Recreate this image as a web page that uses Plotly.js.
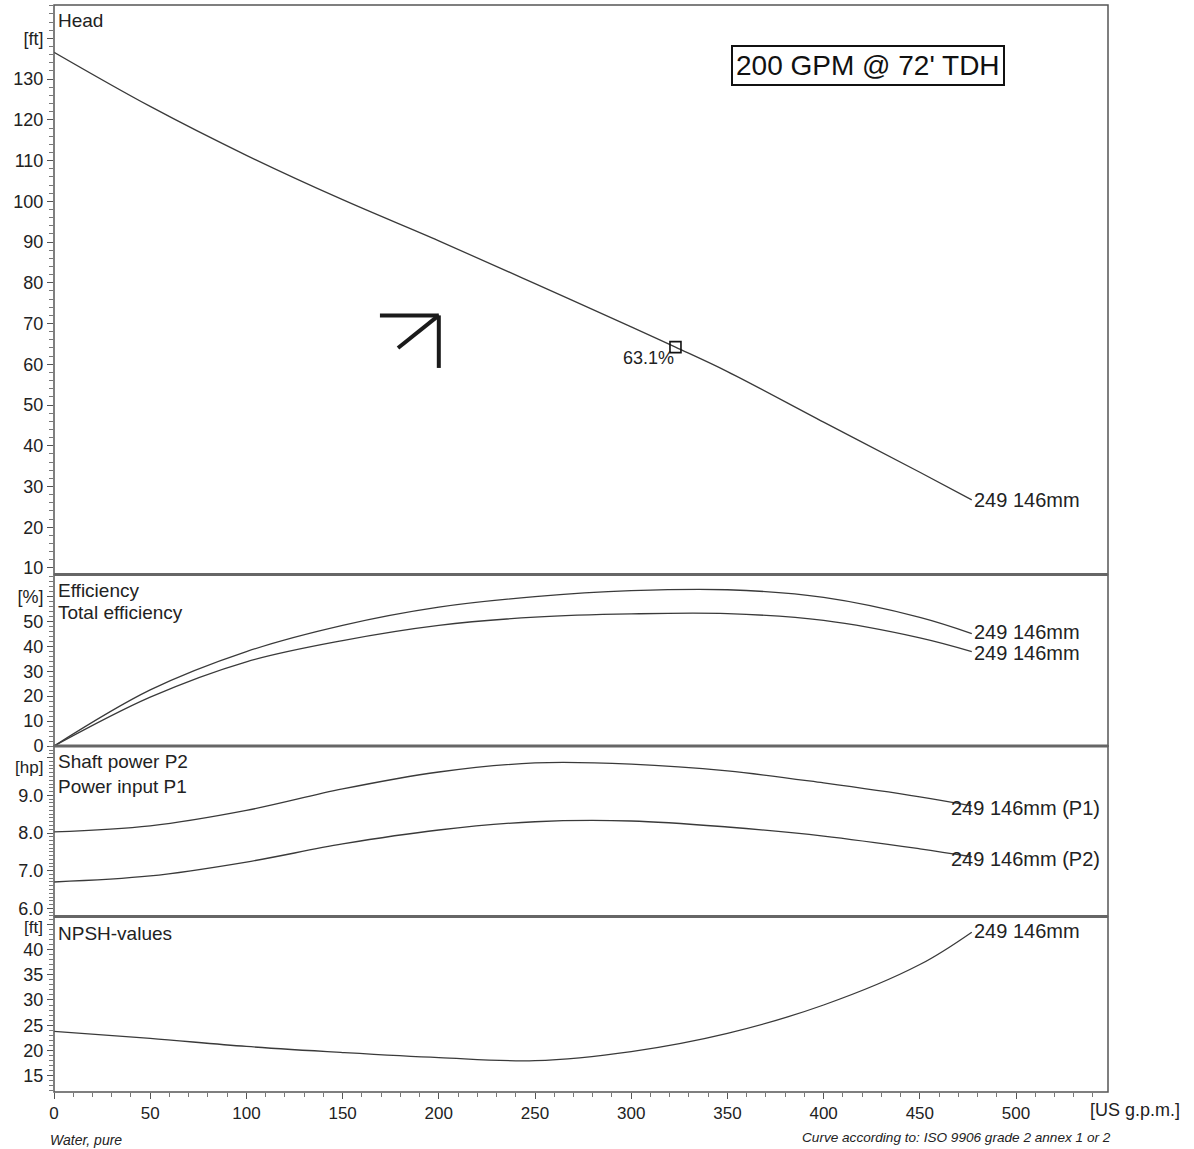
<!DOCTYPE html>
<html>
<head>
<meta charset="utf-8">
<script src="https://cdn.plot.ly/plotly-3.0.1.min.js"></script>
<style>body{margin:0;background:#fff}#chart{width:1194px;height:1149px}</style>
</head>
<body>
<div id="chart"></div>
<script>
// ---- data ----
const flowHead = [0, 50, 100, 150, 200, 250, 300, 323, 350, 400, 450, 477];
const head     = [136.6, 123.3, 111.3, 100.4, 90.3, 79.8, 69.2, 64.2, 58.2, 45.8, 33.5, 26.7];

const flow = [0, 50, 100, 150, 200, 250, 300, 350, 400, 450, 477];
const effPump  = [0, 22.5, 37.9, 48.4, 55.7, 59.9, 62.3, 62.7, 59.6, 51.6, 45.1];
const effTotal = [0, 19.6, 33.8, 42.3, 48.4, 51.7, 53.0, 53.1, 50.4, 43.4, 37.9];
const powerP1  = [8.03, 8.19, 8.60, 9.17, 9.62, 9.86, 9.83, 9.65, 9.33, 8.96, 8.72];
const powerP2  = [6.70, 6.86, 7.23, 7.71, 8.08, 8.30, 8.32, 8.16, 7.92, 7.58, 7.37];
const npsh     = [23.8, 22.4, 20.8, 19.6, 18.6, 18.0, 19.8, 23.4, 29.0, 37.0, 43.4];

const dutyFlow = 323, dutyHead = 64.2, dutyEff = "63.1%";
const targetFlow = 200, targetHead = 72;

const xTicks = [0, 50, 100, 150, 200, 250, 300, 350, 400, 450, 500];
const headTicks = [10, 20, 30, 40, 50, 60, 70, 80, 90, 100, 110, 120, 130, 140];
const headText  = ["10","20","30","40","50","60","70","80","90","100","110","120","130","[ft]"];
const effTicks = [0, 10, 20, 30, 40, 50, 60];
const effText  = ["0","10","20","30","40","50","[%]"];
const powTicks = [6, 7, 8, 9, 10];
const powText  = ["6.0","7.0","8.0","9.0",""];
const powUnit = "[hp]";
const npshTicks = [15, 20, 25, 30, 35, 40, 45];
const npshText  = ["15","20","25","30","35","40",""];
const npshUnit = "[ft]";

const curveLabel = "249 146mm";

// ---- styling ----
const FONT = "Liberation Sans, Arial, sans-serif";
const INK = "#222";
const LINE = {color: "#3a3a3a", width: 1.3, shape: "spline", smoothing: 1.0};

function tr(x, y, ax) {
  return {x: x, y: y, xaxis: "x", yaxis: ax, mode: "lines", line: LINE, hoverinfo: "skip", showlegend: false};
}

const traces = [
  tr(flowHead, head, "y"),
  tr(flow, effPump, "y2"),
  tr(flow, effTotal, "y2"),
  tr(flow, powerP1, "y3"),
  tr(flow, powerP2, "y3"),
  tr(flow, npsh, "y4"),
  {x: [dutyFlow], y: [dutyHead], xaxis: "x", yaxis: "y", mode: "markers",
   marker: {symbol: "square-open", size: 11, color: "#111", line: {width: 1.6, color: "#111"}},
   hoverinfo: "skip", showlegend: false}
];

// panel domains in paper units (bottom = 0)
const D = {
  npsh: [0, 0.161],
  pow: [0.162, 0.3183],
  eff: [0.3183, 0.4756],
  head: [0.4765, 1]
};

function yax(domain, range, tv, tt, minorDtick) {
  return {
    domain: domain, range: range, anchor: "x",
    tickmode: "array", tickvals: tv, ticktext: tt,
    ticks: "outside", ticklen: 6, tickwidth: 1, tickcolor: "#555",
    minor: {tickmode: "linear", tick0: 0, dtick: minorDtick, ticks: "outside", ticklen: 4, tickwidth: 1, tickcolor: "#777"},
    showgrid: false, zeroline: false, showline: false,
    tickfont: {family: FONT, size: 18, color: INK}
  };
}

const shapes = [];
for (const k of ["head", "eff", "pow", "npsh"]) {
  shapes.push({type: "rect", xref: "paper", yref: "paper", x0: 0, x1: 1, y0: D[k][0], y1: D[k][1],
               line: {color: "#555", width: 1.5}});
}
for (const yv of [D.npsh[1] + 0.0005, D.pow[1], D.eff[1] + 0.0005]) {
  shapes.push({type: "line", xref: "paper", yref: "paper", x0: 0, x1: 1, y0: yv, y1: yv,
               line: {color: "#666", width: 3}});
}
// hand-drawn target mark (corner at target duty point)
const MARK = {color: "#1a1a1a", width: 4};
shapes.push({type: "line", xref: "x", yref: "y", x0: 169.4, y0: targetHead, x1: targetFlow, y1: targetHead, line: MARK});
shapes.push({type: "line", xref: "x", yref: "y", x0: targetFlow, y0: targetHead, x1: targetFlow, y1: 59.1, line: MARK});
shapes.push({type: "line", xref: "x", yref: "y", x0: targetFlow, y0: targetHead, x1: 178.8, y1: 64.0, line: MARK});

function lab(text, yPaper) {
  return {text: text, xref: "paper", yref: "paper", x: 0.002, y: yPaper, xanchor: "left", yanchor: "middle",
          showarrow: false, font: {family: FONT, size: 19, color: INK}};
}
function endLab(text, x, y, ax) {
  return {text: text, xref: "x", yref: ax, x: x, y: y, xanchor: "left", yanchor: "middle",
          showarrow: false, font: {family: FONT, size: 20, color: INK}};
}
function unitLab(text, yPaper) {
  return {text: text, xref: "paper", yref: "paper", x: -0.0085, y: yPaper, xanchor: "right", yanchor: "middle",
          showarrow: false, font: {family: FONT, size: 17, color: INK}};
}
const last = a => a[a.length - 1];

const annotations = [
  lab("Head", 0.9862),
  lab("Efficiency", 0.4618),
  lab("Total efficiency", 0.4407),
  lab("Shaft power P2", 0.3036),
  lab("Power input P1", 0.2815),
  lab("NPSH-values", 0.1454),
  unitLab(powUnit, 0.2985),
  unitLab(npshUnit, 0.1509),
  endLab(curveLabel, last(flowHead), last(head), "y"),
  endLab(curveLabel, last(flow), last(effPump) + 0.5, "y2"),
  endLab(curveLabel, last(flow), last(effTotal) - 0.5, "y2"),
  endLab(curveLabel + " (P1)", 465, last(powerP1) - 0.05, "y3"),
  endLab(curveLabel + " (P2)", 465, last(powerP2) - 0.05, "y3"),
  endLab(curveLabel, last(flow), last(npsh) + 0.3, "y4"),
  {text: dutyEff, xref: "x", yref: "y", x: dutyFlow + 0.5, y: 61.5, xanchor: "right", yanchor: "middle",
   showarrow: false, font: {family: FONT, size: 18, color: INK}},
  {text: targetFlow + " GPM @ " + targetHead + "' TDH", xref: "x", yref: "y", x: 423, y: 133.4,
   xanchor: "center", yanchor: "middle", showarrow: false, bordercolor: "#111", borderwidth: 2, borderpad: 3,
   bgcolor: "#fff", font: {family: FONT, size: 28, color: "#111"}},
  {text: "[US g.p.m.]", xref: "paper", yref: "paper", x: 0.981, y: -0.0166, xanchor: "left", yanchor: "middle",
   showarrow: false, font: {family: FONT, size: 18, color: INK}},
  {text: "<i>Water, pure</i>", xref: "paper", yref: "paper", x: -0.006, y: -0.0442, xanchor: "left", yanchor: "middle",
   showarrow: false, font: {family: FONT, size: 14, color: INK}},
  {text: "<i>Curve according to: ISO 9906 grade 2 annex 1 or 2</i>", xref: "paper", yref: "paper", x: 1.0047, y: -0.0423,
   xanchor: "right", yanchor: "middle", showarrow: false, font: {family: FONT, size: 13.6, color: INK}}
];

const layout = {
  width: 1194, height: 1149,
  margin: {l: 54, r: 86, t: 5, b: 57},
  paper_bgcolor: "#fff", plot_bgcolor: "#fff",
  showlegend: false,
  xaxis: {
    domain: [0, 1], range: [0, 547.8], anchor: "y4",
    tickmode: "array", tickvals: xTicks,
    ticks: "outside", ticklen: 6, tickwidth: 1, tickcolor: "#555",
    minor: {tickmode: "linear", tick0: 0, dtick: 10, ticks: "outside", ticklen: 4, tickwidth: 1, tickcolor: "#777"},
    showgrid: false, zeroline: false, showline: false,
    tickfont: {family: FONT, size: 17, color: INK}
  },
  yaxis: yax(D.head, [8.5, 148.2], headTicks, headText, 2),
  yaxis2: yax(D.eff, [0, 68.6], effTicks, effText, 2),
  yaxis3: yax(D.pow, [5.8, 10.31], powTicks, powText, 0.1),
  yaxis4: yax(D.npsh, [11.8, 46.4], npshTicks, npshText, 1),
  shapes: shapes,
  annotations: annotations
};

Plotly.newPlot("chart", traces, layout, {staticPlot: true, displayModeBar: false});
</script>
</body>
</html>
